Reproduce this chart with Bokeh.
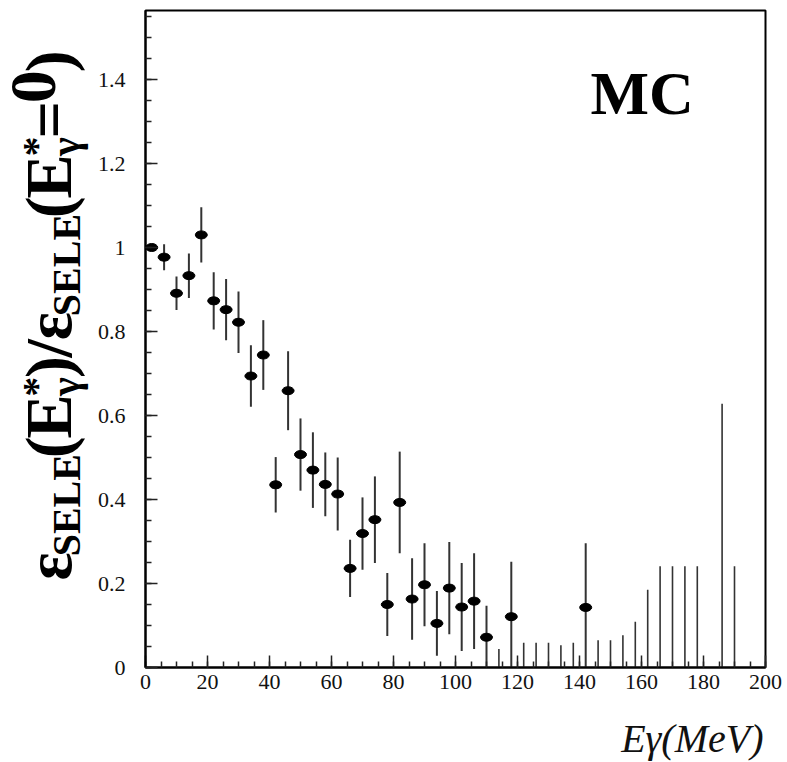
import math
from bokeh.plotting import figure
from bokeh.layouts import row, column
from bokeh.models import Label, FixedTicker, CustomJSTickFormatter, Range1d, ColumnDataSource
from bokeh.embed import file_html
from bokeh.resources import INLINE

# ---- data ----
pt_x = [2, 6, 10, 14, 18, 22, 26, 30, 34, 38, 42, 46, 50, 54, 58, 62, 66, 70, 74, 78,
        82, 86, 90, 94, 98, 102, 106, 110, 118, 142]
pt_y = [1.000, 0.977, 0.891, 0.933, 1.030, 0.873, 0.852, 0.822, 0.694, 0.744, 0.435, 0.659,
        0.507, 0.470, 0.436, 0.413, 0.236, 0.319, 0.352, 0.150, 0.393, 0.163, 0.197, 0.105,
        0.189, 0.144, 0.158, 0.072, 0.121, 0.143]
pt_err = [0.000, 0.031, 0.040, 0.053, 0.066, 0.068, 0.073, 0.073, 0.073, 0.083, 0.066, 0.094,
          0.086, 0.090, 0.076, 0.087, 0.068, 0.086, 0.103, 0.075, 0.121, 0.097, 0.099, 0.077,
          0.110, 0.105, 0.114, 0.075, 0.131, 0.153]

# bins with zero content: only the upper error is visible
zero_x = [114, 122, 126, 130, 134, 138, 146, 150, 154, 158, 162, 166, 170, 174, 178, 186, 190]
zero_err = [0.044, 0.059, 0.059, 0.059, 0.053, 0.059, 0.065, 0.065, 0.077, 0.109, 0.185,
            0.241, 0.241, 0.241, 0.241, 0.628, 0.241]

x_ticks = [0, 20, 40, 60, 80, 100, 120, 140, 160, 180, 200]
y_ticks = [0, 0.2, 0.4, 0.6, 0.8, 1, 1.2, 1.4]

SERIF = "Liberation Serif"

# layout geometry (page pixels)
YLAB_W = 90
TOP_H = 705
PAGE_W = 787
PAGE_H = 762

# ---- main figure ----
X0, X1 = 0, 200
Y0, Y1 = 0, 657 / 420.0
p = figure(width=PAGE_W - YLAB_W, height=TOP_H, output_backend="svg", toolbar_location=None,
           x_range=Range1d(X0, X1), y_range=Range1d(Y0, Y1),
           min_border_left=145 - YLAB_W, min_border_right=PAGE_W - 765,
           min_border_top=10, min_border_bottom=TOP_H - 667)
p.grid.visible = False
p.background_fill_color = "white"
p.border_fill_color = "white"
p.outline_line_color = "black"
p.outline_line_width = 2

for ax in (p.xaxis[0], p.yaxis[0]):
    ax.axis_line_width = 2
    ax.axis_line_color = "black"
    ax.major_tick_in = 12
    ax.major_tick_out = 0
    ax.minor_tick_in = 6
    ax.minor_tick_out = 0
    ax.major_tick_line_width = 1.5
    ax.minor_tick_line_width = 1.5
    ax.major_tick_line_color = "#222"
    ax.minor_tick_line_color = "#222"
    ax.major_label_text_font = SERIF
    ax.major_label_text_font_size = "22px"
    ax.major_label_text_color = "#111"

p.xaxis.ticker = FixedTicker(ticks=x_ticks, minor_ticks=list(range(0, 201, 5)))
p.yaxis.ticker = FixedTicker(ticks=y_ticks, minor_ticks=[i * 0.05 for i in range(0, 32)])
p.yaxis.formatter = CustomJSTickFormatter(code="""
    if (Math.abs(tick) < 1e-9) return '0';
    if (Math.abs(tick - 1) < 1e-9) return '1';
    return tick.toFixed(1);
""")
p.xaxis.major_label_standoff = 7
p.yaxis.major_label_standoff = 20

# error bars and markers
lo = [max(y - e, 0.0) for y, e in zip(pt_y, pt_err)]
hi = [y + e for y, e in zip(pt_y, pt_err)]
src = ColumnDataSource(dict(x=pt_x, y=pt_y, lo=lo, hi=hi))
p.segment(x0="x", y0="lo", x1="x", y1="hi", source=src, line_width=2, line_color="#333")
zsrc = ColumnDataSource(dict(x=zero_x, lo=[0.0] * len(zero_x), hi=zero_err))
p.segment(x0="x", y0="lo", x1="x", y1="hi", source=zsrc, line_width=1.6, line_color="#333")
p.ellipse(x="x", y="y", width=12, height=8, width_units="screen", height_units="screen",
          source=src, fill_color="black", line_color="black")

def dx(px):
    return (px - 145) / 620.0 * (X1 - X0)

def dy(py):
    return (667 - py) / 420.0

p.add_layout(Label(x=dx(590), y=dy(92), text="MC", text_font=SERIF, text_font_style="bold",
                   text_font_size="62px", text_color="black", text_align="left",
                   text_baseline="alphabetic"))

# ---- y-axis title figure (left) ----
yl = figure(width=YLAB_W, height=TOP_H, output_backend="svg", toolbar_location=None,
            x_range=Range1d(0, YLAB_W), y_range=Range1d(0, TOP_H),
            x_axis_location=None, y_axis_location=None, min_border=0)
yl.grid.visible = False
yl.outline_line_color = None
yl.border_fill_color = "white"

F, S = 66, 40
EM = {"ε": 0.44, "S": 0.556, "E": 0.667, "L": 0.667, "(": 0.333, ")": 0.333, "/": 0.278,
      "=": 0.57, "0": 0.5, "*": 0.5, "γ": 0.5}

def wid(t, size):
    return sum(EM[c] for c in t) * size

base_x = 70       # visual baseline of main text (page x)
ASC = 0.891       # font ascent, em
pieces = [
    [("ε", F, 0)], [("SELE", S, 9)], [("(", F, 0)], [("E", F, 0)],
    [("γ", S, 8), ("*", S, -21)], [(")", F, 0)], [("/", F, 0)],
    [("ε", F, 0)], [("SELE", S, 9)], [("(", F, 0)], [("E", F, 0)],
    [("γ", S, 8), ("*", S, -21)], [("=", F, 0)], [("0", F, 0)], [(")", F, 0)],
]
ypos = 611
for group in pieces:
    adv = 0
    for txt, size, off in group:
        w = wid(txt, size)
        tx = base_x + off - ASC * size
        cy = ypos - w / 2.0
        yl.add_layout(Label(x=tx, y=TOP_H - cy, text=txt, angle=math.pi / 2,
                            text_font=SERIF, text_font_style="bold", text_font_size=f"{size}px",
                            text_color="black", text_align="center", text_baseline="top"))
        adv = max(adv, w)
    ypos -= adv

# ---- x-axis title figure (bottom) ----
BOT_H = PAGE_H - TOP_H
xl = figure(width=PAGE_W, height=BOT_H, output_backend="svg", toolbar_location=None,
            x_range=Range1d(0, PAGE_W), y_range=Range1d(0, BOT_H),
            x_axis_location=None, y_axis_location=None, min_border=0)
xl.grid.visible = False
xl.outline_line_color = None
xl.border_fill_color = "white"
xl.add_layout(Label(x=763, y=PAGE_H - 738, text="Eγ(MeV)", text_font=SERIF,
                    text_font_style="italic", text_font_size="40px", text_color="#111",
                    text_align="right", text_baseline="alphabetic"))

layout = column(row(yl, p, spacing=0), xl, spacing=0)
open("out.html", "w").write(file_html(layout, INLINE))
